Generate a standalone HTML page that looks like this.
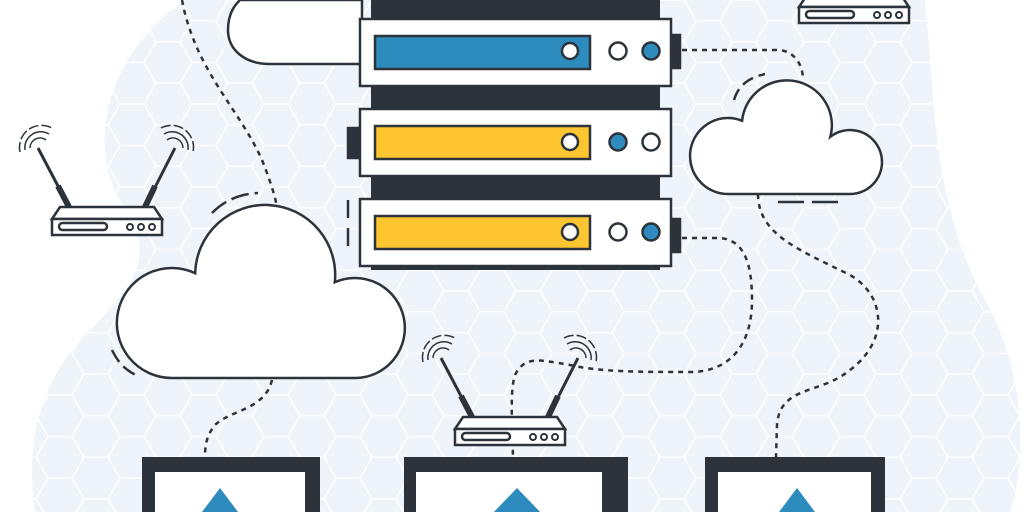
<!DOCTYPE html>
<html><head><meta charset="utf-8"><style>html,body{margin:0;padding:0;background:#fff}svg{display:block}</style></head>
<body>
<svg width="1024" height="512" viewBox="0 0 1024 512" xmlns="http://www.w3.org/2000/svg">
<defs>
<pattern id="hex" width="72" height="41.57" patternUnits="userSpaceOnUse">
<path d="M0,20.78 L12,0 L36,0 L48,20.78 L36,41.57 L12,41.57 Z M48,20.78 L72,20.78" fill="none" stroke="#fff" stroke-width="1.5"/>
</pattern>
</defs>
<path d="M185,0 L925,0 C935,90 930,200 985,300 C1030,380 1024,470 1010,512 L35,512 C25,440 40,380 90,330 C150,270 150,250 120,200 C90,150 100,60 185,0 Z" fill="#eef4f9"/>
<path d="M185,0 L925,0 C935,90 930,200 985,300 C1030,380 1024,470 1010,512 L35,512 C25,440 40,380 90,330 C150,270 150,250 120,200 C90,150 100,60 185,0 Z" fill="url(#hex)"/>

<g fill="none" stroke="#2d333a" stroke-width="2.5" stroke-dasharray="5,5">
<path d="M182,0 C195,70 240,110 262,160 C272,185 276,200 278,212"/>
<path d="M272,380 C265,410 230,410 215,425 C205,437 205,450 205,457"/>
<path d="M682,50 L780,50 C795,52 803,65 803,80"/>
<path d="M758,194 C758,235 800,250 850,275 C885,295 890,340 850,370 C820,395 780,385 777,425 L776,457"/>
<path d="M682,238 L720,238 C745,240 752,265 752,300 C752,345 730,372 690,372 C640,372 600,372 570,365 C540,360 525,355 515,375 C510,390 512,420 513,457"/>
</g>

<!-- top-left cloud -->
<path d="M362,64 L270,64 C245,64 228,50 228,30 C228,12 236,4 240,0 L362,0 Z" fill="#fff" stroke="#2d333a" stroke-width="2.5"/>

<!-- left cloud -->
<path d="M172,378 A55,55 0 1 1 195.2,273.2 A70,70 0 1 1 334.8,282.2 A50,50 0 1 1 355,378 Z" fill="#fff" stroke="#2d333a" stroke-width="2.5"/>
<g fill="none" stroke="#2d333a" stroke-width="2.5">
<path d="M212,213 C225,200 240,194 258,193" stroke-dasharray="18,6"/>
<path d="M112,350 C118,362 124,370 140,377" stroke-dasharray="14,6"/>
<path d="M348,200 L348,255" stroke-dasharray="18,10"/>
</g>

<!-- right cloud -->
<path d="M728,194 A38,38 0 1 1 742.1,120.7 A45,45 0 1 1 830.4,136.7 A32,32 0 1 1 850,194 Z" fill="#fff" stroke="#2d333a" stroke-width="2.5"/>
<g fill="none" stroke="#2d333a" stroke-width="2.5">
<path d="M734,100 C738,86 748,78 765,74" stroke-dasharray="12,6"/>
<path d="M778,202 L840,202" stroke-dasharray="26,8"/>
</g>

<!-- server -->
<rect x="371" y="0" width="289" height="270" fill="#2d333a"/>
<g stroke="#2d333a" stroke-width="2.5">
<rect x="671" y="35" width="9" height="33" fill="#2d333a"/>
<rect x="348" y="128" width="12" height="30" fill="#2d333a"/>
<rect x="671" y="219" width="9" height="33" fill="#2d333a"/>
<rect x="360" y="19" width="311" height="67" fill="#fff"/>
<rect x="360" y="109" width="311" height="67" fill="#fff"/>
<rect x="360" y="199" width="311" height="67" fill="#fff"/>
<rect x="375" y="36" width="215" height="33" fill="#2e8bbd"/>
<rect x="375" y="126" width="215" height="33" fill="#fdc530"/>
<rect x="375" y="216" width="215" height="33" fill="#fdc530"/>
<circle cx="570" cy="51" r="8" fill="#fff"/>
<circle cx="570" cy="142" r="8" fill="#fff"/>
<circle cx="570" cy="232" r="8" fill="#fff"/>
<circle cx="618" cy="51" r="8.5" fill="#fff"/><circle cx="651" cy="51" r="8.5" fill="#2e8bbd"/>
<circle cx="618" cy="142" r="8.5" fill="#2e8bbd"/><circle cx="651" cy="142" r="8.5" fill="#fff"/>
<circle cx="618" cy="232" r="8.5" fill="#fff"/><circle cx="651" cy="232" r="8.5" fill="#2e8bbd"/>
</g>

<defs>
<g id="router">
<path d="M-14,-58 L17,1" stroke="#2d333a" stroke-width="3"/>
<path d="M6,-20 L17,1" stroke="#2d333a" stroke-width="6"/>
<path d="M123,-58 L93,1" stroke="#2d333a" stroke-width="3"/>
<path d="M103,-20 L93,1" stroke="#2d333a" stroke-width="6"/>
<g fill="none" stroke="#2d333a" stroke-width="1.5">
<path d="M-22,-58 A10,10 0 0 1 -6,-66"/><path d="M-27,-56 A16,16 0 0 1 -3,-72"/><path d="M-32,-54 A22,22 0 0 1 0,-78" stroke-dasharray="10,3"/>
<path d="M115,-66 A10,10 0 0 1 131,-58"/><path d="M112,-72 A16,16 0 0 1 136,-56"/><path d="M109,-78 A22,22 0 0 1 141,-54" stroke-dasharray="10,3"/>
</g>
<path d="M8,1 L102,1 L110,13 L0,13 Z" fill="#fff" stroke="#2d333a" stroke-width="2.5"/>
<rect x="0" y="13" width="110" height="16" fill="#fff" stroke="#2d333a" stroke-width="2.5"/>
<rect x="7" y="17" width="48" height="7" rx="3.5" fill="#fff" stroke="#2d333a" stroke-width="2.5"/>
<circle cx="78" cy="21" r="3" fill="#fff" stroke="#2d333a" stroke-width="2"/>
<circle cx="89" cy="21" r="3" fill="#fff" stroke="#2d333a" stroke-width="2"/>
<circle cx="100" cy="21" r="3" fill="#fff" stroke="#2d333a" stroke-width="2"/>
</g>
</defs>
<use href="#router" x="52" y="206"/>
<use href="#router" x="455" y="416"/>
<use href="#router" x="799" y="-6"/>

<g>
<rect x="142" y="457" width="178" height="60" fill="#2d333a"/>
<rect x="155" y="472" width="150" height="50" fill="#fff"/>
<path d="M220,488 L238,512 L202,512 Z" fill="#2e8bbd"/>
<rect x="404" y="457" width="224" height="60" fill="#2d333a"/>
<rect x="416" y="472" width="186" height="50" fill="#fff"/>
<path d="M517,488 L543,515 L491,515 Z" fill="#2e8bbd"/>
<rect x="705" y="457" width="180" height="60" fill="#2d333a"/>
<rect x="718" y="472" width="153" height="50" fill="#fff"/>
<path d="M797,488 L815,512 L779,512 Z" fill="#2e8bbd"/>
</g>
</svg>
</body></html>
